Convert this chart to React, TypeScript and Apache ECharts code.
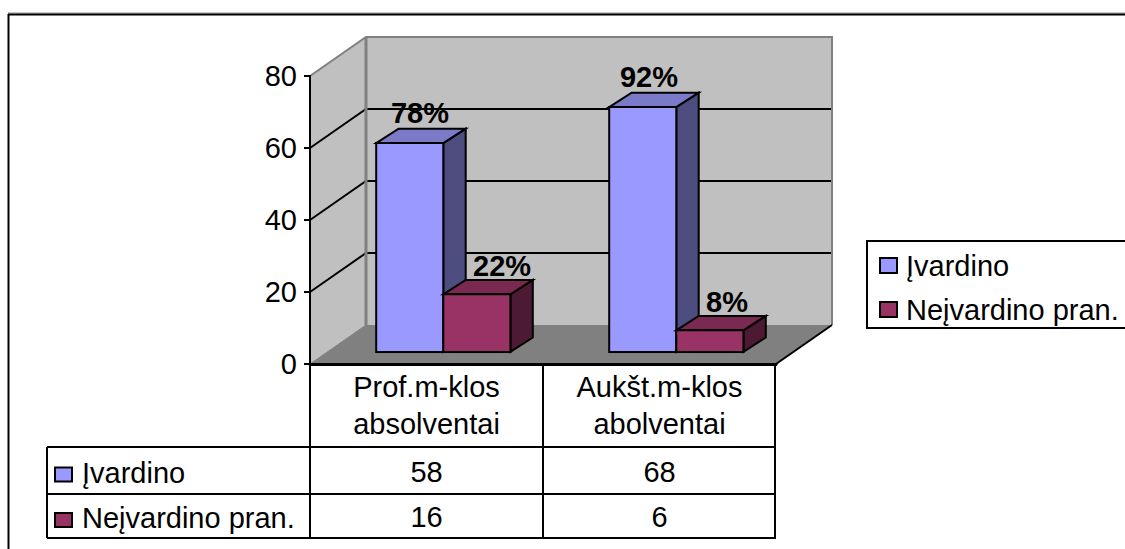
import React, { useEffect, useRef } from "react";
import * as echarts from "echarts";

const categories = ["Prof.m-klos\nabsolventai", "Aukšt.m-klos\nabolventai"];
const seriesNames = ["Įvardino", "Neįvardino pran."];
const named = [58, 68];
const unnamed = [16, 6];
const namedShare = ["78%", "92%"];
const unnamedShare = ["22%", "8%"];
const valueTicks = [0, 20, 40, 60, 80];

const FONT = "'Liberation Sans', Arial, sans-serif";
const TEXT_SIZE = 29;
const GRID = { left: 310, top: 76, width: 466, height: 288 };
const DEPTH = { x: 56, y: 39 };
const TABLE = { left: 47, rows: [447, 494, 538] };
const INK = "#000000";
const EDGE = "#808080";

const palette = [
  { front: "#9999FF", top: "#7A7AC8", side: "#4D4D80", labelShift: [[-1, 0], [-5, 0]] },
  { front: "#993366", top: "#7A2950", side: "#4D1A33", labelShift: [[14, 2], [6, 2]] },
];

function renderWalls(_params: any, api: any) {
  const y0 = api.coord([0, 0])[1];
  const left = GRID.left;
  const right = GRID.left + GRID.width;
  const yTop = GRID.top;
  const stroke = (color: string, lineWidth: number) => ({ stroke: color, lineWidth, fill: "none" });
  const children: any[] = [
    {
      type: "polygon",
      shape: { points: [[left, yTop], [left + DEPTH.x, yTop - DEPTH.y], [left + DEPTH.x, y0 - DEPTH.y], [left, y0]] },
      style: { fill: "#C0C0C0", stroke: "none" },
    },
    {
      type: "polygon",
      shape: { points: [[left + DEPTH.x, yTop - DEPTH.y], [right + DEPTH.x, yTop - DEPTH.y], [right + DEPTH.x, y0 - DEPTH.y], [left + DEPTH.x, y0 - DEPTH.y]] },
      style: { fill: "#C0C0C0", stroke: "none" },
    },
    {
      type: "polygon",
      shape: { points: [[left, y0], [left + DEPTH.x, y0 - DEPTH.y], [right + DEPTH.x, y0 - DEPTH.y], [right, y0]] },
      style: { fill: EDGE, stroke: "none" },
    },
  ];
  valueTicks.slice(1, -1).forEach((tick) => {
    const y = api.coord([0, tick])[1];
    children.push({
      type: "polyline",
      shape: { points: [[left, y], [left + DEPTH.x, y - DEPTH.y], [right + DEPTH.x, y - DEPTH.y]] },
      style: stroke(INK, 2),
    });
  });
  children.push(
    {
      type: "polyline",
      shape: { points: [[left, yTop], [left + DEPTH.x, yTop - DEPTH.y], [right + DEPTH.x, yTop - DEPTH.y], [right + DEPTH.x, y0 - DEPTH.y]] },
      style: stroke(EDGE, 2),
    },
    {
      type: "line",
      shape: { x1: left + DEPTH.x, y1: yTop - DEPTH.y, x2: left + DEPTH.x, y2: y0 - DEPTH.y },
      style: stroke(EDGE, 3),
    },
    {
      type: "line",
      shape: { x1: left, y1: y0, x2: left + DEPTH.x, y2: y0 - DEPTH.y },
      style: stroke(EDGE, 1),
    },
    {
      type: "line",
      shape: { x1: right, y1: y0, x2: right + DEPTH.x, y2: y0 - DEPTH.y },
      style: stroke(INK, 2),
    },
  );
  return { type: "group", children };
}

// One prism of a clustered pair; seriesPos 0 sits left of the category centre, 1 right of it.
function makeRenderBar(seriesPos: number, shares: string[]) {
  return (params: any, api: any) => {
    const colors = palette[seriesPos];
    const idx = api.value(0);
    const [cx, yBase] = api.coord([idx, 0]);
    const yVal = api.coord([idx, api.value(1)])[1];
    const bandW = api.size([1, 0])[0];
    const barW = bandW * 0.288;
    const insetX = DEPTH.x * 0.3;
    const insetY = DEPTH.y * 0.31;
    const bx = DEPTH.x * 0.4;
    const by = DEPTH.y * 0.37;
    const x1 = cx + insetX + (seriesPos - 1) * barW;
    const x2 = x1 + barW;
    const yB = yBase - insetY;
    const yT = yVal - insetY;
    const lineStyle = { stroke: INK, lineWidth: 2, lineJoin: "miter" };
    const shift = colors.labelShift[params.dataIndex];
    return {
      type: "group",
      children: [
        {
          type: "polygon",
          shape: { points: [[x2, yB], [x2 + bx, yB - by], [x2 + bx, yT - by], [x2, yT]] },
          style: { fill: colors.side, ...lineStyle },
        },
        {
          type: "polygon",
          shape: { points: [[x1, yT], [x1 + bx, yT - by], [x2 + bx, yT - by], [x2, yT]] },
          style: { fill: colors.top, ...lineStyle },
        },
        {
          type: "rect",
          shape: { x: x1, y: yT, width: barW, height: yB - yT },
          style: { fill: colors.front, ...lineStyle },
        },
        {
          type: "text",
          x: (x1 + x2 + bx) / 2 + shift[0],
          y: yT - by - 1 + shift[1],
          style: {
            text: shares[params.dataIndex],
            font: `bold ${TEXT_SIZE}px ${FONT}`,
            fill: INK,
            align: "center",
            verticalAlign: "bottom",
          },
        },
      ],
    };
  };
}

function tableGraphics() {
  const right = GRID.left + GRID.width;
  const mid = GRID.left + GRID.width / 2;
  const [r0, r1, r2] = TABLE.rows;
  const yTop = GRID.top + GRID.height;
  const black = { stroke: INK, lineWidth: 2 };
  const line = (x1: number, y1: number, x2: number, y2: number, style: any = black) => ({
    type: "line",
    shape: { x1, y1, x2, y2 },
    style,
  });
  const out: any[] = [
    // outer chart frame, open at the right and bottom
    line(8, 13, 1125, 13, { stroke: "#909090", lineWidth: 1 }),
    line(8, 14.5, 1125, 14.5, { stroke: INK, lineWidth: 2 }),
    line(8.5, 14, 8.5, 549, { stroke: INK, lineWidth: 2 }),
    // legend box, its right side runs past the canvas
    {
      type: "rect",
      shape: { x: 867, y: 241, width: 280, height: 87 },
      style: { fill: "#FFFFFF", stroke: INK, lineWidth: 2 },
      z: -1,
    },
    line(GRID.left, yTop, GRID.left, r2),
    line(mid, yTop, mid, r2),
    line(right - 1, yTop, right - 1, r2),
    line(TABLE.left, r0, right, r0),
    line(TABLE.left, r1, right, r1),
    line(TABLE.left, r2, right, r2),
    line(TABLE.left, r0, TABLE.left, r2),
  ];
  const rows = [named, unnamed];
  rows.forEach((values, row) => {
    const cy = (TABLE.rows[row] + TABLE.rows[row + 1]) / 2 + 1;
    out.push({
      type: "rect",
      shape: { x: 55, y: cy - 4, width: 17, height: 14 },
      style: { fill: palette[row].front, stroke: INK, lineWidth: 2 },
    });
    out.push({
      type: "text",
      x: 82,
      y: cy + 1,
      style: { text: seriesNames[row], font: `${TEXT_SIZE}px ${FONT}`, fill: INK, align: "left", verticalAlign: "middle" },
    });
    values.forEach((v, col) => {
      out.push({
        type: "text",
        x: GRID.left + (col + 0.5) * (GRID.width / 2),
        y: cy,
        style: { text: String(v), font: `${TEXT_SIZE}px ${FONT}`, fill: INK, align: "center", verticalAlign: "middle" },
      });
    });
  });
  return out;
}

export default function App() {
  const ref = useRef<HTMLDivElement>(null);
  useEffect(() => {
    document.body.style.margin = "0";
    const chart = echarts.init(ref.current!, undefined, { renderer: "svg" });
    chart.setOption({
      animation: false,
      backgroundColor: "#FFFFFF",
      grid: { ...GRID, containLabel: false },
      xAxis: {
        type: "category",
        data: categories,
        z: 3,
        axisLine: { lineStyle: { color: INK, width: 3 } },
        axisTick: { show: false },
        axisLabel: { color: INK, fontFamily: FONT, fontSize: TEXT_SIZE, lineHeight: 37, margin: 4, interval: 0 },
      },
      yAxis: {
        type: "value",
        min: 0,
        max: 80,
        interval: 20,
        z: 3,
        splitLine: { show: false },
        axisLine: { show: true, lineStyle: { color: INK, width: 2 } },
        axisTick: { show: true, length: 6, lineStyle: { color: INK, width: 2 } },
        axisLabel: { color: INK, fontFamily: FONT, fontSize: TEXT_SIZE, margin: 13 },
      },
      legend: {
        show: true,
        orient: "vertical",
        left: 874,
        top: 246,
        data: seriesNames,
        icon: "rect",
        itemWidth: 17,
        itemHeight: 15,
        itemGap: 15,
        textStyle: { color: INK, fontFamily: FONT, fontSize: TEXT_SIZE, padding: [0, 0, 0, 4] },
        itemStyle: { borderColor: INK, borderWidth: 2 },
        selectedMode: false,
      },
      graphic: tableGraphics(),
      series: [
        {
          type: "custom",
          name: "walls",
          silent: true,
          renderItem: renderWalls,
          data: [[0, 0]],
          encode: { x: 0, y: 1 },
        },
        {
          type: "custom",
          name: seriesNames[0],
          itemStyle: { color: palette[0].front },
          renderItem: makeRenderBar(0, namedShare),
          data: named.map((v, i) => [i, v]),
          encode: { x: 0, y: 1 },
        },
        {
          type: "custom",
          name: seriesNames[1],
          itemStyle: { color: palette[1].front },
          renderItem: makeRenderBar(1, unnamedShare),
          data: unnamed.map((v, i) => [i, v]),
          encode: { x: 0, y: 1 },
        },
      ],
    });
    return () => chart.dispose();
  }, []);
  return <div ref={ref} style={{ position: "absolute", left: 0, top: 0, width: 1125, height: 549 }} />;
}
